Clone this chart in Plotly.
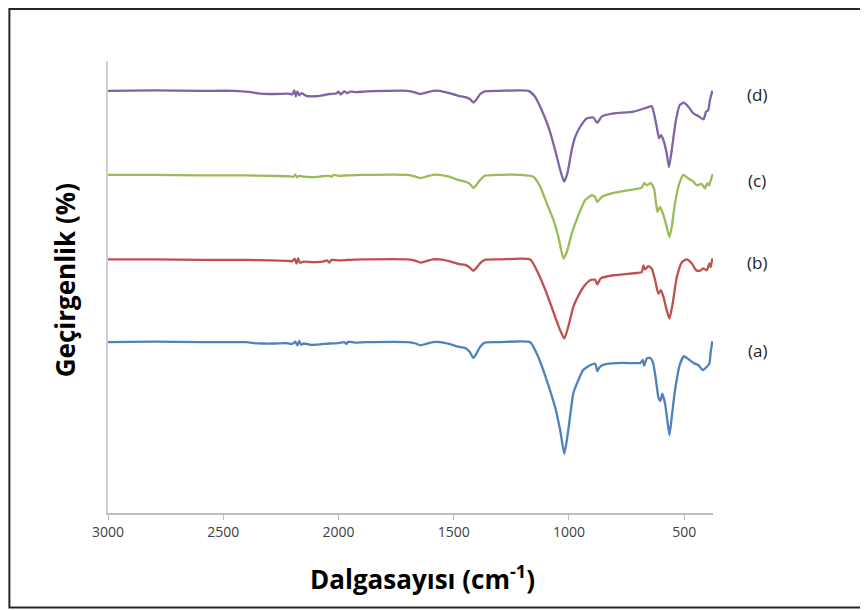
import plotly.graph_objects as go

# ---- data (wavenumber cm-1, transmittance arbitrary %) ----
wn_a = [3000, 2800, 2600, 2400, 2370, 2330, 2280, 2230, 2200, 2188, 2178, 2170, 2162, 2150, 2120, 2080,
        2040, 2000, 1975, 1965, 1958, 1930, 1880, 1700, 1665, 1645, 1620, 1590, 1560, 1520, 1480, 1450,
        1430, 1415, 1400, 1385, 1365, 1300, 1168, 1133, 1096, 1060, 1038, 1020, 1003, 981, 960, 939,
        908, 886, 877, 865, 836, 764, 690, 680, 674, 662, 648, 636, 622, 612, 603, 595, 583, 573, 564,
        554, 540, 518, 501, 486, 460, 438, 419, 405, 391, 385, 378]
t_a = [37.8, 37.9, 37.8, 37.8, 37.6, 37.5, 37.5, 37.6, 37.4, 37.9, 37.1, 38.1, 37.2, 37.5, 37.2, 37.3,
       37.5, 37.6, 37.8, 37.4, 37.9, 37.7, 37.8, 37.8, 37.5, 37.1, 37.4, 37.8, 37.8, 37.4, 36.8, 36.5,
       35.6, 34.3, 35.4, 36.8, 37.7, 37.8, 37.8, 34.5, 29.3, 23.4, 18.3, 13.1, 18.3, 26.5, 29.3, 31.6,
       32.7, 33.0, 31.4, 32.4, 33.0, 33.2, 33.2, 33.9, 32.6, 34.2, 34.3, 33.4, 29.3, 25.6, 24.8, 26.4,
       24.2, 20.5, 17.2, 21.2, 27.1, 33.0, 34.7, 34.2, 33.2, 32.7, 31.6, 32.2, 33.0, 35.6, 38.0]

wn_b = [3000, 2800, 2600, 2400, 2300, 2220, 2200, 2190, 2182, 2175, 2168, 2150, 2110, 2070, 2050, 2040,
        2030, 2000, 1960, 1900, 1700, 1665, 1645, 1620, 1590, 1560, 1520, 1480, 1450, 1430, 1415, 1400,
        1385, 1365, 1300, 1168, 1133, 1096, 1060, 1038, 1020, 1003, 981, 966, 937, 908, 886, 877, 862,
        807, 706, 684, 677, 670, 656, 641, 626, 612, 601, 590, 576, 564, 550, 532, 510, 489, 467, 448,
        431, 417, 402, 391, 385, 378]
t_b = [56.1, 56.1, 56.0, 56.0, 55.9, 55.8, 55.7, 56.3, 55.2, 56.4, 55.4, 55.6, 55.5, 55.6, 55.9, 55.4,
       56.0, 55.9, 56.0, 56.1, 56.1, 55.8, 55.4, 55.7, 56.1, 56.1, 55.7, 55.1, 54.9, 54.3, 53.6, 54.3,
       55.3, 56.0, 56.1, 56.1, 53.0, 48.5, 43.4, 40.4, 38.6, 41.2, 45.6, 47.4, 50.0, 51.5, 51.6, 50.6, 51.9,
       52.6, 53.1, 53.3, 54.8, 53.9, 54.6, 54.1, 51.5, 48.5, 49.3, 47.8, 44.9, 43.0, 46.3, 52.2, 55.5, 56.1,
       55.2, 53.7, 53.6, 54.1, 53.7, 55.2, 54.4, 56.3]

wn_c = [3000, 2800, 2600, 2400, 2300, 2220, 2195, 2188, 2180, 2170, 2150, 2110, 2070, 2040, 2030, 2020,
        2000, 1960, 1900, 1700, 1665, 1645, 1620, 1590, 1560, 1520, 1480, 1450, 1430, 1415, 1400, 1385,
        1365, 1300, 1212, 1154, 1125, 1096, 1067, 1046, 1024, 1009, 988, 959, 930, 901, 887, 877, 858,
        807, 720, 684, 674, 662, 645, 631, 622, 616, 605, 590, 576, 564, 554, 540, 521, 504, 482, 460,
        446, 424, 410, 400, 391, 385, 376]
t_c = [74.8, 74.8, 74.7, 74.7, 74.6, 74.5, 74.4, 74.9, 74.3, 74.6, 74.4, 74.3, 74.5, 74.6, 74.4, 74.8,
       74.6, 74.7, 74.8, 74.8, 74.4, 74.1, 74.4, 74.8, 74.8, 74.4, 73.7, 73.3, 72.8, 71.9, 72.7, 73.7,
       74.6, 74.8, 74.8, 74.4, 72.2, 68.5, 64.8, 61.1, 56.3, 57.8, 61.8, 65.9, 69.2, 70.3, 69.9, 68.8, 69.9,
       70.8, 71.6, 72.0, 73.0, 72.5, 73.0, 71.8, 68.5, 66.6, 67.7, 65.9, 63.3, 61.0, 63.3, 68.5, 72.9, 74.8,
       74.0, 73.3, 72.5, 72.8, 71.8, 73.0, 72.5, 73.6, 75.0]

wn_d = [3000, 2800, 2600, 2450, 2380, 2340, 2280, 2220, 2200, 2192, 2185, 2178, 2170, 2160, 2140, 2100,
        2070, 2040, 2010, 2000, 1990, 1975, 1962, 1950, 1920, 1880, 1700, 1665, 1645, 1620, 1590, 1560,
        1520, 1480, 1450, 1430, 1415, 1400, 1385, 1365, 1300, 1176, 1147, 1118, 1089, 1060, 1038, 1021,
        1007, 988, 973, 952, 923, 894, 877, 858, 807, 720, 662, 641, 631, 619, 609, 600, 590, 576, 566,
        554, 536, 519, 501, 482, 460, 438, 416, 405, 396, 388, 378]
t_d = [93.4, 93.5, 93.4, 93.4, 93.1, 92.8, 92.7, 92.8, 92.6, 93.5, 92.2, 93.3, 92.4, 92.9, 92.3, 92.2,
       92.4, 92.7, 92.8, 93.2, 92.6, 93.3, 92.9, 93.2, 93.1, 93.3, 93.4, 93.0, 92.7, 93.0, 93.4, 93.4,
       92.9, 92.3, 92.0, 91.6, 90.8, 91.6, 92.7, 93.3, 93.4, 93.4, 92.1, 89.1, 85.4, 80.3, 75.9, 73.3,
       75.1, 80.3, 83.2, 85.4, 87.3, 87.5, 86.3, 87.7, 88.4, 88.8, 89.7, 90.0, 88.4, 85.4, 82.9, 83.6,
       82.5, 79.6, 76.5, 80.3, 86.9, 90.3, 90.8, 89.9, 88.4, 87.8, 87.1, 88.8, 89.1, 91.4, 93.4]

series_names = ["(a)", "(b)", "(c)", "(d)"]
series_x = [wn_a, wn_b, wn_c, wn_d]
series_y = [t_a, t_b, t_c, t_d]
series_colors = ["#4F81BD", "#C0504D", "#9BBB59", "#8064A2"]
label_y = [36.0, 55.5, 73.6, 92.5]

x_ticks = [3000, 2500, 2000, 1500, 1000, 500]

FONT = "Open Sans, Liberation Sans, sans-serif"

fig = go.Figure()
for name, xs, ys, col in zip(series_names, series_x, series_y, series_colors):
    fig.add_trace(go.Scatter(x=xs, y=ys, mode="lines", name=name,
                             line=dict(color=col, width=2.3, shape="spline", smoothing=0.5),
                             showlegend=False, hoverinfo="skip"))

for name, ly in zip(series_names, label_y):
    fig.add_annotation(x=1.073, xref="paper", xanchor="center", y=ly, yref="y", text=name,
                       showarrow=False, font=dict(family=FONT, size=17, color="#222222"))

fig.add_annotation(x=0.52, xref="paper", xanchor="center", y=-0.144, yref="paper", yanchor="middle",
                   text="<b>Dalgasayısı (cm<sup>-1</sup>)</b>", showarrow=False,
                   font=dict(family=FONT, size=26, color="#000000"))
fig.add_annotation(x=-0.071, xref="paper", xanchor="center", y=0.515, yref="paper", yanchor="middle",
                   textangle=-90, text="<b>Geçirgenlik (%)</b>", showarrow=False,
                   font=dict(family=FONT, size=26, color="#000000"))

# outer frame
fig.add_shape(type="rect", xref="paper", yref="paper", x0=-0.163, x1=1.3, y0=-0.209, y1=1.115,
              line=dict(color="#262626", width=2), fillcolor="rgba(0,0,0,0)", layer="below")

fig.update_layout(
    width=868, height=610,
    margin=dict(l=100, r=163, t=53, b=105),
    paper_bgcolor="white", plot_bgcolor="white",
    font=dict(family=FONT),
    xaxis=dict(range=[3000, 375], tickvals=x_ticks, ticks="outside", ticklen=5, tickcolor="#BFBFBF",
               showline=True, linecolor="#BFBFBF", linewidth=1.5, showgrid=False, zeroline=False,
               tickfont=dict(family=FONT, size=14, color="#404040")),
    yaxis=dict(range=[0, 100], showticklabels=False, ticks="", showline=True, linecolor="#D0D0D0",
               linewidth=1.5, showgrid=False, zeroline=False),
)

fig.write_html("out.html")
